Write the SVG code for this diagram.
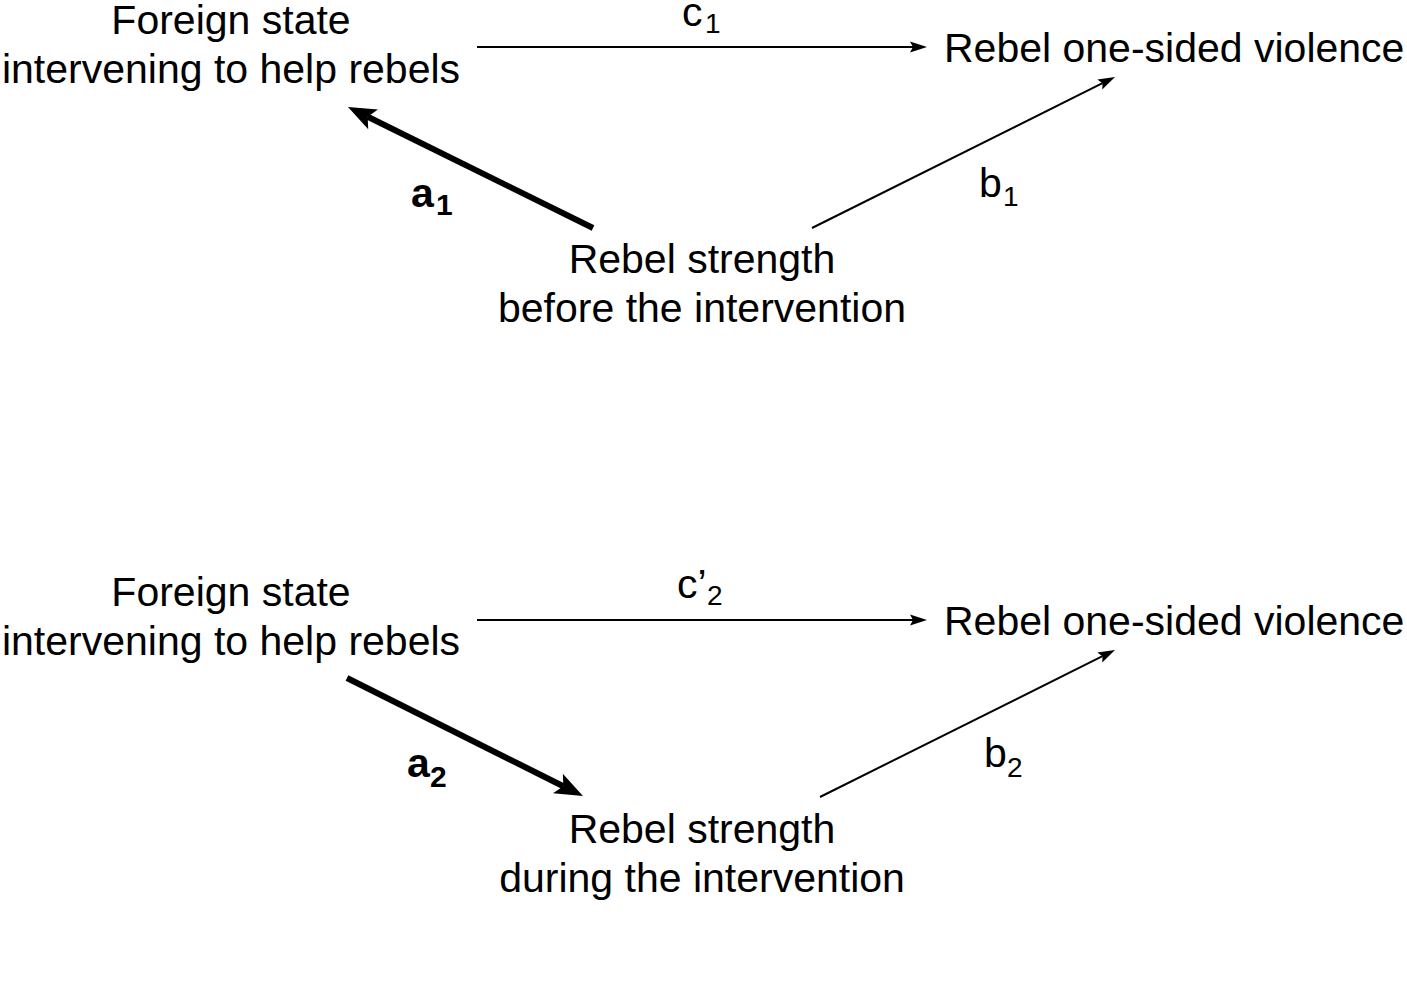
<svg xmlns="http://www.w3.org/2000/svg" width="1407" height="987" viewBox="0 0 1407 987">
<style>
text{font-family:"Liberation Sans",Arial,sans-serif;fill:#000}
.n{font-size:41px;text-anchor:middle}
.l{font-size:41px}
.s{font-size:28px}
.b{font-weight:bold}
.thin{stroke:#000;stroke-width:2;fill:none;marker-end:url(#ht)}
.thick{stroke:#000;stroke-width:6;fill:none;marker-end:url(#hk)}
</style>
<defs>
<marker id="ht" markerUnits="userSpaceOnUse" viewBox="-4 -7 20 14" refX="0" refY="0" markerWidth="20" markerHeight="14" orient="auto" overflow="visible">
<path d="M0,0 L-3,-5.5 L14,0 L-3,5.5 Z" fill="#000"/>
</marker>
<marker id="hk" markerUnits="userSpaceOnUse" viewBox="-8 -12 32 24" refX="0" refY="0" markerWidth="32" markerHeight="24" orient="auto" overflow="visible">
<path d="M0,0 L-6,-11 L22,0 L-6,11 Z" fill="#000"/>
</marker>
</defs>
<rect width="1407" height="987" fill="#fff"/>
<g id="connectors">
<line class="thin" x1="477" y1="47" x2="913" y2="47"/>
<line class="thick" x1="593" y1="228" x2="367.7" y2="116.7"/>
<line class="thin" x1="812" y1="228" x2="1102.5" y2="83.2"/>
<line class="thin" x1="477" y1="620" x2="913" y2="620"/>
<line class="thick" x1="347" y1="678" x2="563.3" y2="786.2"/>
<line class="thin" x1="820" y1="797" x2="1102.5" y2="656.2"/>
<g id="label-c1"><text class="l" x="682" y="26">c</text><text class="s" x="705" y="33">1</text></g>
<g id="label-a1"><text class="l b" x="411" y="207">a</text><text class="s b" x="436" y="215" style="font-size:30px">1</text></g>
<g id="label-b1"><text class="l" x="979" y="197">b</text><text class="s" x="1003" y="206">1</text></g>
<g id="label-c2"><text class="l" x="677" y="598">c’</text><text class="s" x="707" y="605">2</text></g>
<g id="label-a2"><text class="l b" x="407" y="777">a</text><text class="s b" x="430" y="787" style="font-size:30px">2</text></g>
<g id="label-b2"><text class="l" x="984" y="767">b</text><text class="s" x="1007" y="777">2</text></g>
</g>
<g id="foreign1"><text class="n" x="231" y="34">Foreign state</text><text class="n" x="231" y="83">intervening to help rebels</text></g>
<g id="violence1"><text class="l" x="944" y="62">Rebel one-sided violence</text></g>
<g id="strength1"><text class="n" x="702" y="273">Rebel strength</text><text class="n" x="702" y="322">before the intervention</text></g>
<g id="foreign2"><text class="n" x="231" y="606">Foreign state</text><text class="n" x="231" y="655">intervening to help rebels</text></g>
<g id="violence2"><text class="l" x="944" y="635">Rebel one-sided violence</text></g>
<g id="strength2"><text class="n" x="702" y="843">Rebel strength</text><text class="n" x="702" y="892">during the intervention</text></g>
</svg>
